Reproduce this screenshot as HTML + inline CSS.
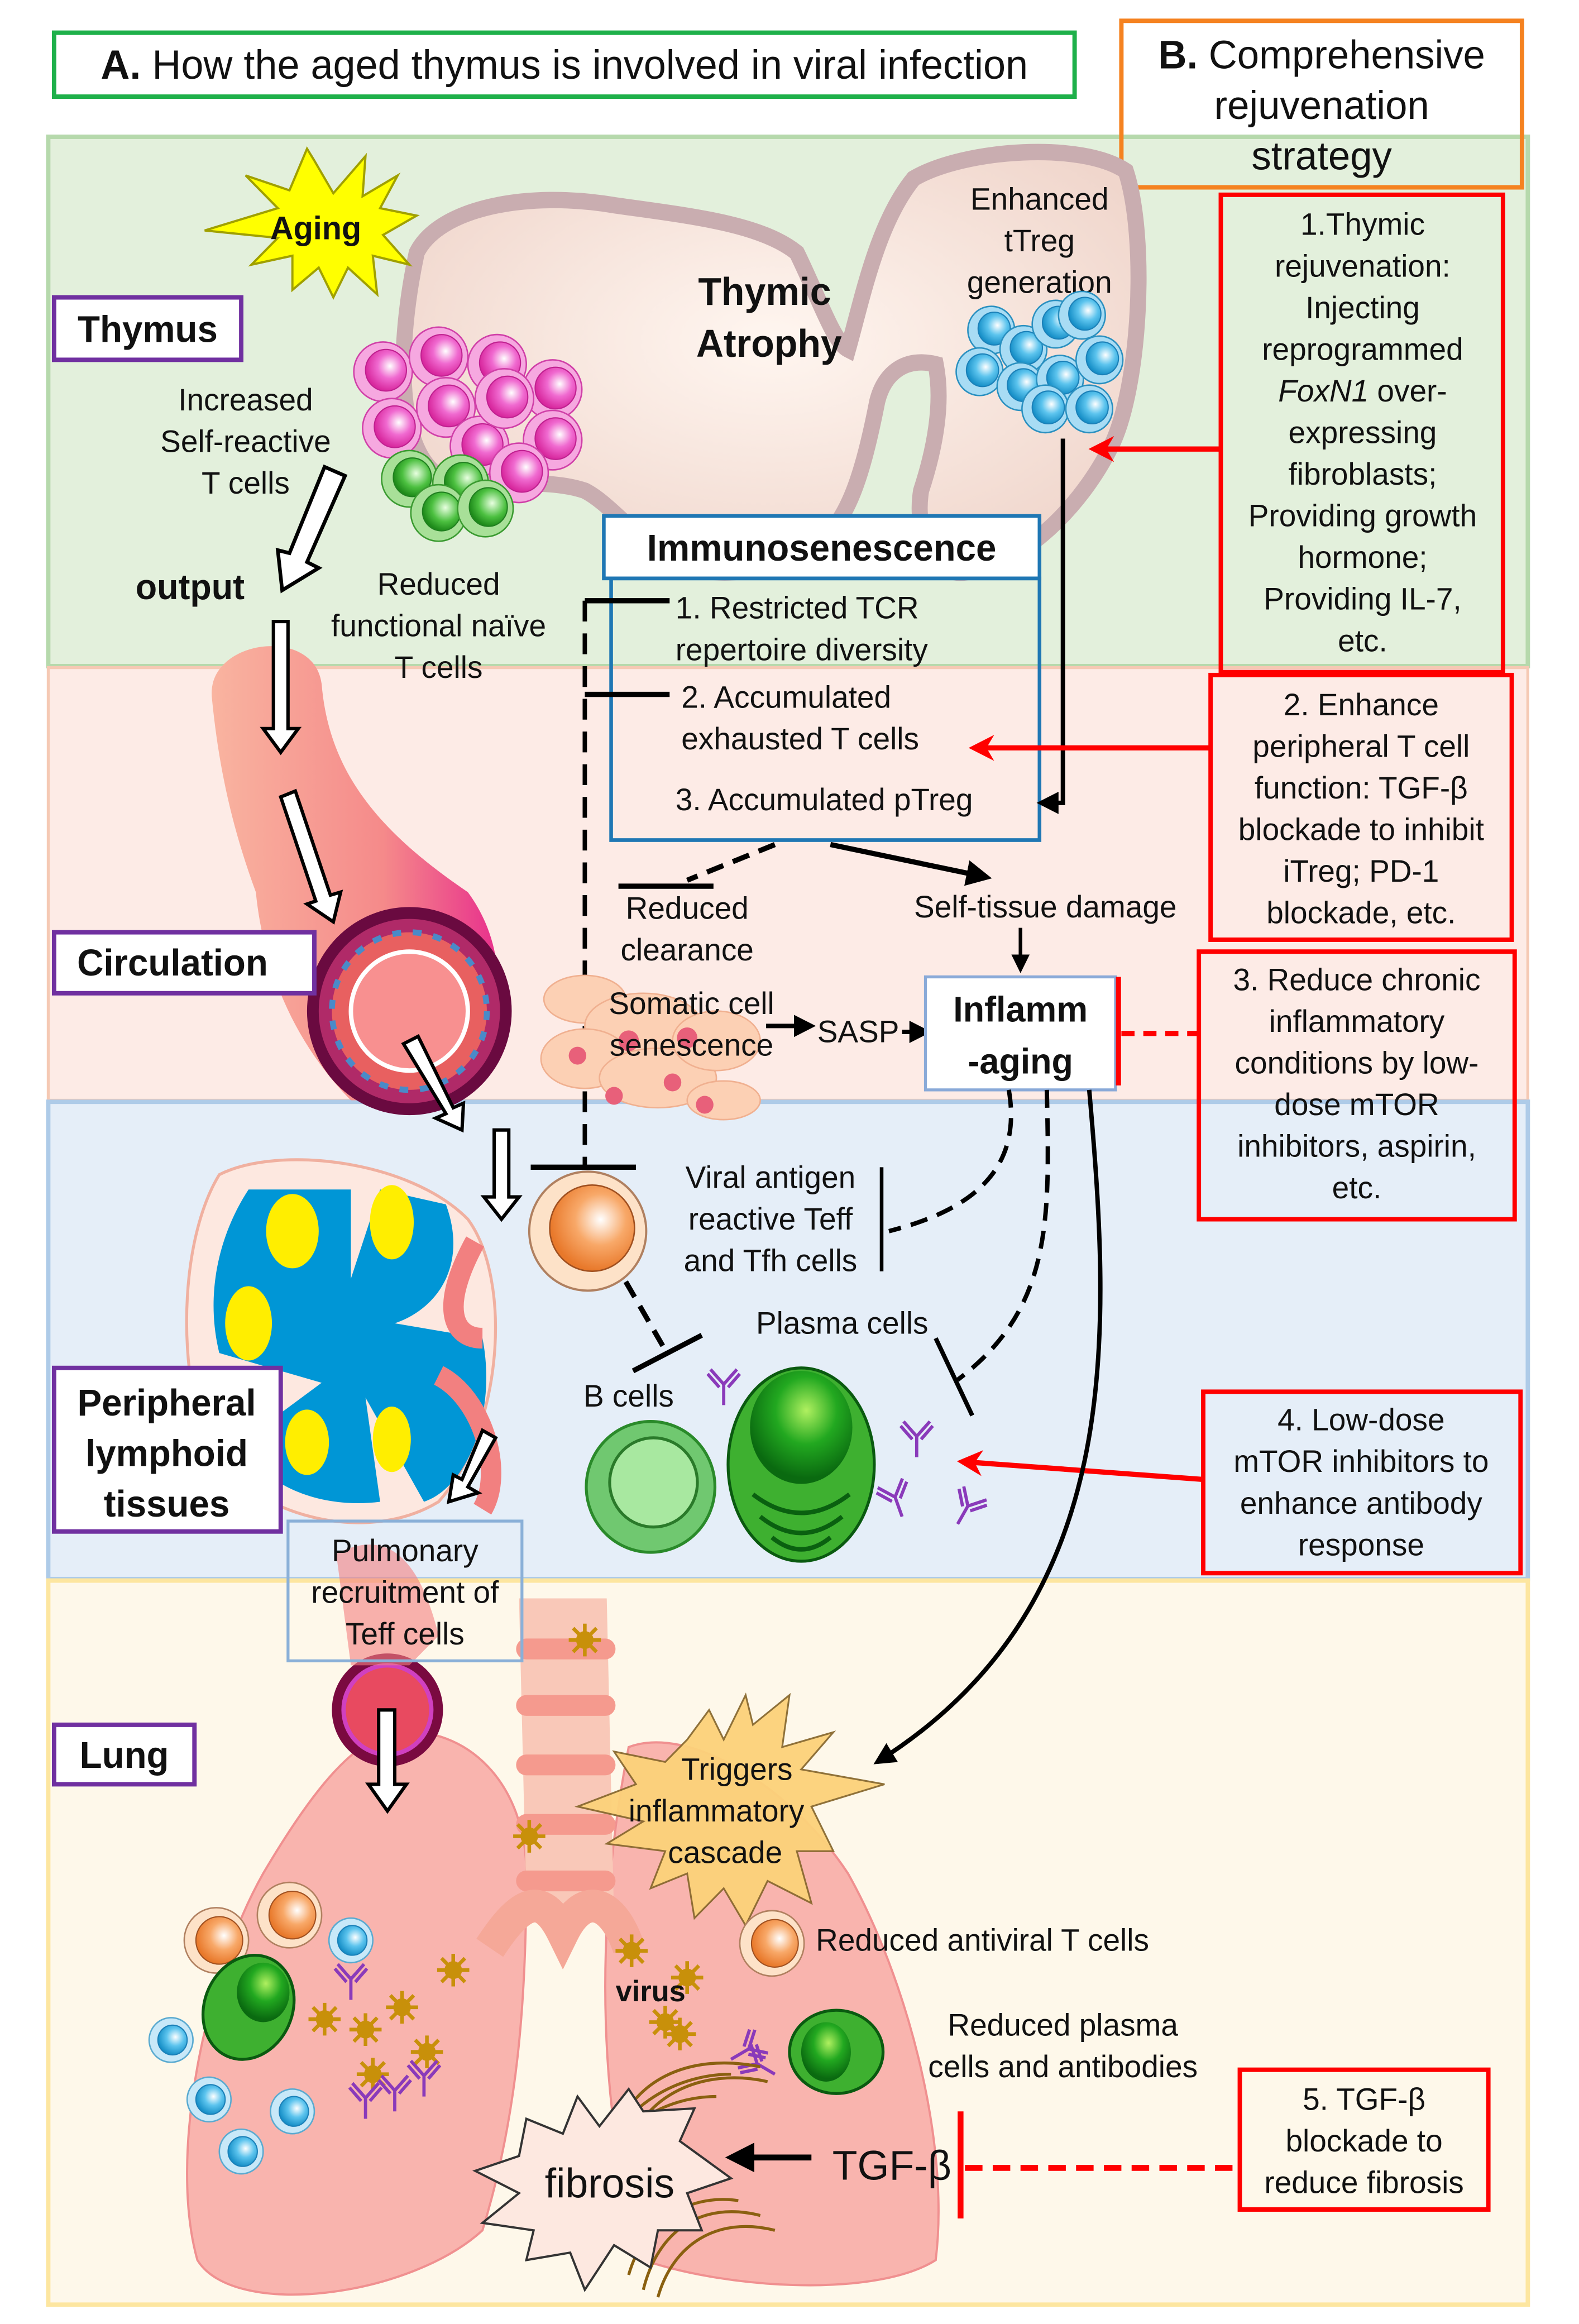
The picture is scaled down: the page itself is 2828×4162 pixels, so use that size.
<!DOCTYPE html>
<html><head><meta charset="utf-8"><style>
html,body{margin:0;padding:0;background:#fff}
svg{display:block}
text{font-family:"Liberation Sans",sans-serif;fill:#111}
</style></head><body>
<svg width="2828" height="4162" viewBox="0 0 1080 1563" preserveAspectRatio="none" xmlns="http://www.w3.org/2000/svg">
<defs>
<radialGradient id="pk" cx="0.6" cy="0.4" r="0.6"><stop offset="0" stop-color="#fff"/><stop offset="0.5" stop-color="#f06ad0"/><stop offset="1" stop-color="#d8289e"/></radialGradient>
<radialGradient id="gr" cx="0.6" cy="0.4" r="0.6"><stop offset="0" stop-color="#e8ffe0"/><stop offset="0.6" stop-color="#4cc040"/><stop offset="1" stop-color="#1e8a1a"/></radialGradient>
<radialGradient id="bl" cx="0.6" cy="0.4" r="0.6"><stop offset="0" stop-color="#fff"/><stop offset="0.5" stop-color="#5cc4ee"/><stop offset="1" stop-color="#1890c8"/></radialGradient>
<radialGradient id="or" cx="0.6" cy="0.4" r="0.6"><stop offset="0" stop-color="#fff"/><stop offset="0.5" stop-color="#f8a868"/><stop offset="1" stop-color="#e8782a"/></radialGradient>
<radialGradient id="pl" cx="0.55" cy="0.35" r="0.6"><stop offset="0" stop-color="#b0f060"/><stop offset="0.5" stop-color="#22a820"/><stop offset="1" stop-color="#0a6a10"/></radialGradient>
<linearGradient id="ves" x1="0" y1="0" x2="1" y2="0"><stop offset="0" stop-color="#f9b4a0"/><stop offset="0.6" stop-color="#f58a8a"/><stop offset="1" stop-color="#e8308c"/></linearGradient>
<radialGradient id="thy" cx="0.5" cy="0.45" r="0.6"><stop offset="0" stop-color="#fff6f0"/><stop offset="1" stop-color="#f0d6cc"/></radialGradient>
<g id="cellpk"><circle r="20" fill="#f6a8e0" stroke="#d040a8"/><circle cx="2" cy="-1" r="14" fill="url(#pk)" stroke="#c02090" stroke-width="0.8"/></g>
<g id="cellgr"><circle r="19" fill="#a8e098" stroke="#3a9a30"/><circle cx="2" cy="-1" r="13" fill="url(#gr)" stroke="#208020" stroke-width="0.8"/></g>
<g id="cellbl"><circle r="16" fill="#a8dcf4" stroke="#2a90c0"/><circle cx="2" cy="-1" r="11" fill="url(#bl)" stroke="#1a80b8" stroke-width="0.8"/></g>
<g id="cellor"><circle r="22" fill="#fde2c8" stroke="#b08060"/><circle cx="2" cy="0" r="16" fill="url(#or)" stroke="#a05020" stroke-width="0.8"/></g>
<g id="cellsb"><circle r="15" fill="#c8e8f8" stroke="#5aaad0"/><circle cx="1" cy="0" r="10" fill="url(#bl)" stroke="#1a80b8" stroke-width="0.8"/></g>
<g id="ab" stroke="#8a3aba" stroke-width="2.2" fill="none"><path d="M0,0 L0,-14 M0,-14 L-9,-24 M0,-14 L9,-24 M-3,-12 L-11,-21 M3,-12 L11,-21"/></g>
<g id="vir" fill="#c8900a"><circle r="6"/><path d="M0,-11 L0,11 M-11,0 L11,0 M-8,-8 L8,8 M-8,8 L8,-8" stroke="#c8900a" stroke-width="2.5"/></g>
<marker id="ah" viewBox="0 0 10 10" refX="8" refY="5" markerWidth="5" markerHeight="5" orient="auto"><path d="M0,0 L10,5 L0,10 z" fill="#000"/></marker>
<marker id="ahr" viewBox="0 0 10 10" refX="8" refY="5" markerWidth="5" markerHeight="5" orient="auto"><path d="M0,0 L10,5 L0,10 L3,5 z" fill="#f00"/></marker>
</defs>

<rect x="33" y="92" width="1012" height="356" fill="#e3f0dc" stroke="#b6d9ac" stroke-width="3"/>
<rect x="33" y="449" width="1012" height="291" fill="#fdebe6" stroke="#f5c9b4" stroke-width="2"/>
<rect x="33" y="741" width="1012" height="321" fill="#e5eef8" stroke="#aecbe8" stroke-width="3"/>
<rect x="33" y="1063" width="1012" height="487" fill="#fef8ea" stroke="#fde6a0" stroke-width="3"/>

<rect x="37" y="22" width="698" height="43" fill="#fff" stroke="#1eb04a" stroke-width="3"/>
<text x="386" y="53" font-size="27.5" text-anchor="middle"><tspan font-weight="bold">A.</tspan> How the aged thymus is involved in viral infection</text>
<rect x="767" y="14" width="274" height="112" fill="none" stroke="#f58220" stroke-width="3"/>
<text x="904" y="46" font-size="27" text-anchor="middle"><tspan font-weight="bold">B.</tspan> Comprehensive</text>
<text x="904" y="80" font-size="27" text-anchor="middle">rejuvenation</text>
<text x="904" y="114" font-size="27" text-anchor="middle">strategy</text>

<path d="M285,170 C300,140 360,128 420,138 C470,145 520,150 545,170 C560,200 570,230 580,235 C590,200 600,150 625,120 C660,100 740,95 770,115 C785,160 780,260 760,300 C740,340 700,380 660,385 C640,388 625,360 630,330 C640,300 645,270 640,245 C620,240 605,250 600,270 C590,320 580,350 560,365 C530,385 490,390 470,380 C440,370 420,340 400,330 C370,320 330,330 300,320 C270,300 272,230 285,170 Z" fill="url(#thy)" stroke="#c9adb0" stroke-width="11"/>
<text x="523" y="205" font-size="26" font-weight="bold" text-anchor="middle">Thymic</text>
<text x="526" y="240" font-size="26" font-weight="bold" text-anchor="middle">Atrophy</text>
<text x="711" y="141" font-size="21" text-anchor="middle">Enhanced</text>
<text x="711" y="169" font-size="21" text-anchor="middle">tTreg</text>
<text x="711" y="197" font-size="21" text-anchor="middle">generation</text>

<polygon points="215,108 228,130 250,105 248,132 272,118 260,140 285,145 262,158 280,178 255,172 258,198 238,180 228,200 218,180 200,195 200,172 172,178 190,160 140,155 190,140 168,118 198,128 210,100" fill="#ffff00" stroke="#a0a000" stroke-width="1.5"/>
<text x="216" y="161" font-size="22" font-weight="bold" text-anchor="middle">Aging</text>

<use href="#cellpk" x="262" y="250"/><use href="#cellpk" x="300" y="240"/><use href="#cellpk" x="340" y="245"/><use href="#cellpk" x="378" y="262"/>
<use href="#cellpk" x="268" y="288"/><use href="#cellpk" x="305" y="274"/><use href="#cellpk" x="328" y="300"/><use href="#cellpk" x="378" y="296"/><use href="#cellpk" x="355" y="318"/><use href="#cellpk" x="345" y="268"/>
<use href="#cellgr" x="280" y="322"/><use href="#cellgr" x="315" y="325"/><use href="#cellgr" x="300" y="345"/><use href="#cellgr" x="332" y="342"/>
<use href="#cellbl" x="678" y="222"/><use href="#cellbl" x="700" y="235"/><use href="#cellbl" x="722" y="218"/><use href="#cellbl" x="740" y="212"/><use href="#cellbl" x="670" y="250"/><use href="#cellbl" x="698" y="260"/><use href="#cellbl" x="725" y="255"/><use href="#cellbl" x="752" y="242"/><use href="#cellbl" x="715" y="275"/><use href="#cellbl" x="745" y="275"/>

<rect x="37" y="200" width="128" height="42" fill="#fff" stroke="#7030a0" stroke-width="3"/>
<text x="101" y="230" font-size="25" font-weight="bold" text-anchor="middle">Thymus</text>
<text x="168" y="276" font-size="21" text-anchor="middle">Increased</text>
<text x="168" y="304" font-size="21" text-anchor="middle">Self-reactive</text>
<text x="168" y="332" font-size="21" text-anchor="middle">T cells</text>
<polygon points="222,314 236,320 210,378 218,382 193,397 190,370 198,372" fill="#fff" stroke="#000" stroke-width="2.5"/>
<text x="130" y="403" font-size="24" font-weight="bold" text-anchor="middle">output</text>
<text x="300" y="400" font-size="21" text-anchor="middle">Reduced</text>
<text x="300" y="428" font-size="21" text-anchor="middle">functional naïve</text>
<text x="300" y="456" font-size="21" text-anchor="middle">T cells</text>

<path d="M145,470 C140,430 215,420 220,460 C225,520 260,560 320,600 C350,640 350,700 300,740 L240,740 C200,700 180,650 175,600 C160,560 150,520 145,470 Z" fill="url(#ves)"/>
<circle cx="280" cy="680" r="70" fill="#6a0a40"/>
<circle cx="280" cy="680" r="62" fill="#b02a68"/>
<circle cx="280" cy="680" r="53" fill="#e86060" stroke="#4a8ac8" stroke-width="4" stroke-dasharray="6 8"/>
<circle cx="280" cy="680" r="40" fill="#f89090" stroke="#fff" stroke-width="3"/>
<polygon points="187,418 197,418 197,490 204,490 192,506 180,490 187,490" fill="#fff" stroke="#000" stroke-width="2.3"/>
<polygon points="192,536 202,532 226,602 233,600 228,620 210,608 216,606" fill="#fff" stroke="#000" stroke-width="2.3"/>
<polygon points="276,702 286,697 310,745 317,742 316,760 298,752 305,749" fill="#fff" stroke="#000" stroke-width="2.3"/>
<rect x="37" y="627" width="178" height="41" fill="#fff" stroke="#7030a0" stroke-width="3"/>
<text x="118" y="656" font-size="25" font-weight="bold" text-anchor="middle">Circulation</text>

<rect x="418" y="389" width="293" height="176" fill="none" stroke="#1f77b4" stroke-width="2.5"/>
<rect x="413" y="347" width="298" height="42" fill="#fff" stroke="#1f77b4" stroke-width="2.5"/>
<text x="562" y="377" font-size="25" font-weight="bold" text-anchor="middle">Immunosenescence</text>
<text x="462" y="416" font-size="21">1. Restricted TCR</text>
<text x="462" y="444" font-size="21">repertoire diversity</text>
<text x="466" y="476" font-size="21">2. Accumulated</text>
<text x="466" y="504" font-size="21">exhausted T cells</text>
<text x="462" y="545" font-size="21">3. Accumulated pTreg</text>
<path d="M400,404 L458,404 M400,467 L458,467" stroke="#000" stroke-width="3.5"/>
<path d="M400,404 L400,785" stroke="#000" stroke-width="3" stroke-dasharray="14 8"/>
<path d="M363,785 L435,785" stroke="#000" stroke-width="3.5"/>
<path d="M727,295 L727,540 L712,540" fill="none" stroke="#000" stroke-width="3" marker-end="url(#ah)"/>

<path d="M835,302 L748,302" stroke="#f00" stroke-width="3.5" marker-end="url(#ahr)"/>
<path d="M828,503 L666,503" stroke="#f00" stroke-width="3.5" marker-end="url(#ahr)"/>
<path d="M823,995 L658,983" stroke="#f00" stroke-width="3.5" marker-end="url(#ahr)"/>
<rect x="835" y="131" width="193" height="321" fill="none" stroke="#f00" stroke-width="3"/>
<g font-size="21" text-anchor="middle">
<text x="932" y="158">1.Thymic</text><text x="932" y="186">rejuvenation:</text><text x="932" y="214">Injecting</text><text x="932" y="242">reprogrammed</text><text x="932" y="270"><tspan font-style="italic">FoxN1</tspan> over-</text><text x="932" y="298">expressing</text><text x="932" y="326">fibroblasts;</text><text x="932" y="354">Providing growth</text><text x="932" y="382">hormone;</text><text x="932" y="410">Providing IL-7,</text><text x="932" y="438">etc.</text>
</g>
<rect x="828" y="454" width="206" height="178" fill="none" stroke="#f00" stroke-width="3"/>
<g font-size="21" text-anchor="middle">
<text x="931" y="481">2. Enhance</text><text x="931" y="509">peripheral T cell</text><text x="931" y="537">function: TGF-β</text><text x="931" y="565">blockade to inhibit</text><text x="931" y="593">iTreg; PD-1</text><text x="931" y="621">blockade, etc.</text>
</g>
<rect x="820" y="640" width="216" height="180" fill="none" stroke="#f00" stroke-width="3"/>
<g font-size="21" text-anchor="middle">
<text x="928" y="666">3. Reduce chronic</text><text x="928" y="694">inflammatory</text><text x="928" y="722">conditions by low-</text><text x="928" y="750">dose mTOR</text><text x="928" y="778">inhibitors, aspirin,</text><text x="928" y="806">etc.</text>
</g>
<rect x="823" y="936" width="217" height="122" fill="none" stroke="#f00" stroke-width="3"/>
<g font-size="21" text-anchor="middle">
<text x="931" y="962">4. Low-dose</text><text x="931" y="990">mTOR inhibitors to</text><text x="931" y="1018">enhance antibody</text><text x="931" y="1046">response</text>
</g>
<rect x="848" y="1392" width="170" height="94" fill="none" stroke="#f00" stroke-width="3"/>
<g font-size="21" text-anchor="middle">
<text x="933" y="1419">5. TGF-β</text><text x="933" y="1447">blockade to</text><text x="933" y="1475">reduce fibrosis</text>
</g>

<path d="M530,568 L470,592" stroke="#000" stroke-width="3.5" stroke-dasharray="12 7"/>
<path d="M423,596 L488,596" stroke="#000" stroke-width="3.5"/>
<path d="M568,568 L675,590" stroke="#000" stroke-width="3.5" marker-end="url(#ah)"/>
<text x="470" y="618" font-size="21" text-anchor="middle">Reduced</text>
<text x="470" y="646" font-size="21" text-anchor="middle">clearance</text>
<text x="715" y="617" font-size="21" text-anchor="middle">Self-tissue damage</text>
<path d="M698,624 L698,652" stroke="#000" stroke-width="2.5" marker-end="url(#ah)"/>
<g fill="#fcd0b4" stroke="#f0b090" stroke-width="1">
<ellipse cx="400" cy="672" rx="28" ry="16"/><ellipse cx="440" cy="690" rx="40" ry="22"/><ellipse cx="400" cy="712" rx="30" ry="20"/><ellipse cx="450" cy="725" rx="40" ry="20"/><ellipse cx="490" cy="700" rx="30" ry="20"/><ellipse cx="495" cy="740" rx="25" ry="13"/>
</g>
<g fill="#e8607a"><circle cx="430" cy="700" r="7"/><circle cx="470" cy="698" r="7"/><circle cx="395" cy="710" r="6"/><circle cx="460" cy="728" r="6"/><circle cx="420" cy="737" r="6"/><circle cx="482" cy="743" r="6"/></g>
<text x="473" y="682" font-size="21" text-anchor="middle">Somatic cell</text>
<text x="473" y="710" font-size="21" text-anchor="middle">senescence</text>
<path d="M524,690 L555,690" stroke="#000" stroke-width="3" marker-end="url(#ah)"/>
<text x="587" y="701" font-size="21" text-anchor="middle">SASP</text>
<path d="M617,694 L634,694" stroke="#000" stroke-width="3" marker-end="url(#ah)"/>
<rect x="633" y="657" width="130" height="76" fill="#fff" stroke="#8aaad8" stroke-width="2"/>
<text x="698" y="687" font-size="24" font-weight="bold" text-anchor="middle">Inflamm</text>
<text x="698" y="722" font-size="24" font-weight="bold" text-anchor="middle">-aging</text>
<path d="M765,657 L765,730" stroke="#f00" stroke-width="3.5"/>
<path d="M767,695 L820,695" stroke="#f00" stroke-width="3.5" stroke-dasharray="9 6"/>

<path d="M603,785 L603,855" stroke="#000" stroke-width="2.5"/>
<path d="M690,733 C700,790 660,815 608,828" fill="none" stroke="#000" stroke-width="3" stroke-dasharray="12 7"/>
<path d="M716,733 C718,820 720,880 655,928" fill="none" stroke="#000" stroke-width="3" stroke-dasharray="12 7"/>
<path d="M640,900 L665,952" stroke="#000" stroke-width="3"/>
<path d="M745,733 C760,900 770,1080 600,1185" fill="none" stroke="#000" stroke-width="3" marker-end="url(#ah)"/>
<text x="527" y="799" font-size="21" text-anchor="middle">Viral antigen</text>
<text x="527" y="827" font-size="21" text-anchor="middle">reactive Teff</text>
<text x="527" y="855" font-size="21" text-anchor="middle">and Tfh cells</text>
<circle cx="402" cy="828" r="40" fill="#fde2c8" stroke="#b08060" stroke-width="1.5"/>
<circle cx="405" cy="826" r="29" fill="url(#or)" stroke="#a05020"/>
<path d="M428,862 L455,908" stroke="#000" stroke-width="3.5" stroke-dasharray="12 7"/>
<path d="M433,922 L480,898" stroke="#000" stroke-width="3.5"/>
<text x="430" y="946" font-size="21" text-anchor="middle">B cells</text>
<text x="576" y="897" font-size="21" text-anchor="middle">Plasma cells</text>
<circle cx="445" cy="1000" r="44" fill="#70c870" stroke="#2a8a2a" stroke-width="2"/>
<circle cx="447" cy="997" r="30" fill="#a8e8a0" stroke="#2a7a2a" stroke-width="2"/>
<ellipse cx="548" cy="985" rx="50" ry="65" fill="#3eb030" stroke="#0a5a10" stroke-width="2"/>
<ellipse cx="548" cy="960" rx="35" ry="38" fill="url(#pl)"/>
<path d="M515,1005 Q548,1030 581,1005 M520,1020 Q548,1042 576,1020 M528,1034 Q548,1050 568,1034" fill="none" stroke="#0a6010" stroke-width="3"/>
<use href="#ab" x="495" y="945"/><use href="#ab" x="627" y="980"/><use href="#ab" x="617" y="1020" transform="rotate(-20 617 1020)"/><use href="#ab" x="655" y="1025" transform="rotate(30 655 1025)"/>

<path d="M150,790 C190,770 280,780 320,820 C350,860 345,960 300,1010 C250,1040 170,1020 140,970 C120,910 125,830 150,790 Z" fill="#fde8e0" stroke="#f0b0a0" stroke-width="2"/>
<path d="M170,800 L240,800 L240,860 L260,800 L305,810 C320,850 300,880 270,890 L330,900 C340,950 320,1000 290,1010 L250,940 L260,1010 C220,1015 180,1000 165,970 L220,930 L150,910 C140,870 150,830 170,800 Z" fill="#0096d6"/>
<ellipse cx="200" cy="828" rx="18" ry="25" fill="#ffee00"/><ellipse cx="268" cy="822" rx="15" ry="25" fill="#ffee00"/>
<ellipse cx="170" cy="890" rx="16" ry="25" fill="#ffee00"/><ellipse cx="210" cy="970" rx="15" ry="22" fill="#ffee00"/><ellipse cx="268" cy="968" rx="13" ry="22" fill="#ffee00"/>
<path d="M325,835 C300,880 310,900 330,900 M300,925 C330,940 345,990 330,1015" fill="none" stroke="#f28080" stroke-width="14"/>
<polygon points="338,760 348,760 348,805 355,805 343,820 331,805 338,805" fill="#fff" stroke="#000" stroke-width="2.3"/>
<polygon points="330,962 339,967 320,1000 327,1004 307,1010 310,992 316,995" fill="#fff" stroke="#000" stroke-width="2.3"/>
<rect x="37" y="920" width="155" height="110" fill="#fff" stroke="#7030a0" stroke-width="3"/>
<text x="114" y="952" font-size="25" font-weight="bold" text-anchor="middle">Peripheral</text>
<text x="114" y="986" font-size="25" font-weight="bold" text-anchor="middle">lymphoid</text>
<text x="114" y="1020" font-size="25" font-weight="bold" text-anchor="middle">tissues</text>

<path d="M270,1165 C320,1160 360,1200 360,1260 C360,1340 355,1420 330,1500 C280,1545 160,1560 135,1520 C115,1450 140,1330 180,1260 C210,1210 240,1170 270,1165 Z" fill="#f9b4ae" stroke="#f09090" stroke-width="1.5"/>
<path d="M430,1175 C470,1160 540,1200 580,1260 C620,1330 650,1440 640,1520 C600,1545 500,1540 440,1520 C410,1430 405,1300 430,1175 Z" fill="#f9b4ae" stroke="#f09090" stroke-width="1.5"/>
<path d="M355,1075 L415,1075 L420,1290 L400,1280 L380,1290 L360,1280 Z" fill="#f9c8b8"/>
<g fill="#f59a8e"><rect x="353" y="1102" width="68" height="14" rx="7"/><rect x="353" y="1140" width="68" height="14" rx="7"/><rect x="353" y="1180" width="68" height="14" rx="7"/><rect x="353" y="1220" width="68" height="14" rx="7"/><rect x="353" y="1258" width="68" height="14" rx="7"/></g>
<path d="M335,1310 C355,1280 370,1270 385,1300 C400,1270 420,1280 430,1310" fill="none" stroke="#f5a898" stroke-width="22"/>
<circle cx="265" cy="1150" r="38" fill="#7a0a40"/><circle cx="265" cy="1150" r="30" fill="#e84a60" stroke="#d040c0" stroke-width="3"/>
<path d="M230,1045 C260,1030 285,1040 300,1100 L280,1120 L240,1120 Z" fill="#f38080" opacity="0.6"/>
<rect x="197" y="1023" width="160" height="94" fill="none" stroke="#8ab0d8" stroke-width="2"/>
<text x="277" y="1050" font-size="21" text-anchor="middle">Pulmonary</text>
<text x="277" y="1078" font-size="21" text-anchor="middle">recruitment of</text>
<text x="277" y="1106" font-size="21" text-anchor="middle">Teff cells</text>
<polygon points="259,1150 270,1150 270,1200 278,1200 265,1218 252,1200 259,1200" fill="#fff" stroke="#000" stroke-width="2.3"/>
<rect x="37" y="1160" width="96" height="40" fill="#fff" stroke="#7030a0" stroke-width="3"/>
<text x="85" y="1189" font-size="25" font-weight="bold" text-anchor="middle">Lung</text>

<polygon points="470,1170 485,1150 495,1170 510,1140 515,1160 540,1140 535,1175 570,1165 548,1190 605,1200 555,1215 570,1245 545,1245 555,1280 525,1265 510,1295 495,1270 475,1290 470,1260 445,1270 455,1245 415,1240 440,1225 395,1215 435,1200 420,1178 455,1185" fill="#fcd27a" stroke="#8a6a30" stroke-width="1.2" opacity="0.95"/>
<text x="504" y="1197" font-size="21" text-anchor="middle">Triggers</text>
<text x="490" y="1225" font-size="21" text-anchor="middle">inflammatory</text>
<text x="496" y="1253" font-size="21" text-anchor="middle">cascade</text>

<use href="#vir" x="400" y="1103"/><use href="#vir" x="362" y="1235"/><use href="#vir" x="432" y="1312"/><use href="#vir" x="470" y="1330"/><use href="#vir" x="465" y="1368"/><use href="#vir" x="455" y="1360"/>
<use href="#vir" x="222" y="1358"/><use href="#vir" x="250" y="1365"/><use href="#vir" x="275" y="1350"/><use href="#vir" x="292" y="1380"/><use href="#vir" x="310" y="1325"/><use href="#vir" x="255" y="1395"/>
<use href="#cellor" x="148" y="1305"/><use href="#cellor" x="198" y="1288"/>
<use href="#cellsb" x="240" y="1305"/><use href="#cellsb" x="117" y="1372"/><use href="#cellsb" x="143" y="1412"/><use href="#cellsb" x="200" y="1420"/><use href="#cellsb" x="165" y="1447"/>
<ellipse cx="170" cy="1350" rx="30" ry="36" transform="rotate(25 170 1350)" fill="#3eb030" stroke="#0a5a10" stroke-width="2"/>
<ellipse cx="180" cy="1340" rx="18" ry="20" fill="url(#pl)"/>
<use href="#ab" x="240" y="1345"/><use href="#ab" x="270" y="1420"/><use href="#ab" x="250" y="1425"/><use href="#ab" x="290" y="1410"/>
<use href="#cellor" x="528" y="1307"/>
<text x="558" y="1312" font-size="21">Reduced antiviral T cells</text>
<text x="445" y="1346" font-size="20" font-weight="bold" text-anchor="middle">virus</text>
<ellipse cx="572" cy="1380" rx="32" ry="28" fill="#3eb030" stroke="#0a5a10" stroke-width="2"/>
<ellipse cx="565" cy="1380" rx="17" ry="20" fill="url(#pl)"/>
<use href="#ab" x="500" y="1385" transform="rotate(60 500 1385)"/><use href="#ab" x="530" y="1395" transform="rotate(-60 530 1395)"/>
<text x="727" y="1369" font-size="21" text-anchor="middle">Reduced plasma</text>
<text x="727" y="1397" font-size="21" text-anchor="middle">cells and antibodies</text>
<g fill="none" stroke="#8a6010" stroke-width="2">
<path d="M420,1440 C430,1400 470,1380 520,1390"/><path d="M430,1445 C440,1410 480,1390 525,1400"/><path d="M410,1460 C420,1420 460,1395 500,1395"/><path d="M400,1470 C420,1430 455,1410 490,1410"/>
<path d="M440,1540 C450,1500 480,1480 520,1490"/><path d="M450,1545 C460,1510 490,1490 530,1500"/><path d="M430,1530 C440,1495 470,1475 505,1480"/>
</g>
<polygon points="360,1425 385,1435 395,1410 410,1430 430,1405 440,1420 475,1418 465,1440 500,1465 470,1475 480,1500 450,1500 445,1525 420,1510 400,1540 390,1515 360,1520 365,1500 330,1495 355,1475 325,1460 355,1450" fill="#fde8e0" stroke="#333" stroke-width="1.5"/>
<text x="417" y="1478" font-size="28" text-anchor="middle">fibrosis</text>
<path d="M555,1451 L500,1451" stroke="#000" stroke-width="4" marker-end="url(#ah)"/>
<text x="610" y="1466" font-size="28" text-anchor="middle">TGF-β</text>
<path d="M657,1420 L657,1492" stroke="#f00" stroke-width="4"/>
<path d="M660,1458 L848,1458" stroke="#f00" stroke-width="4" stroke-dasharray="12 7"/>
</svg>
</body></html>
